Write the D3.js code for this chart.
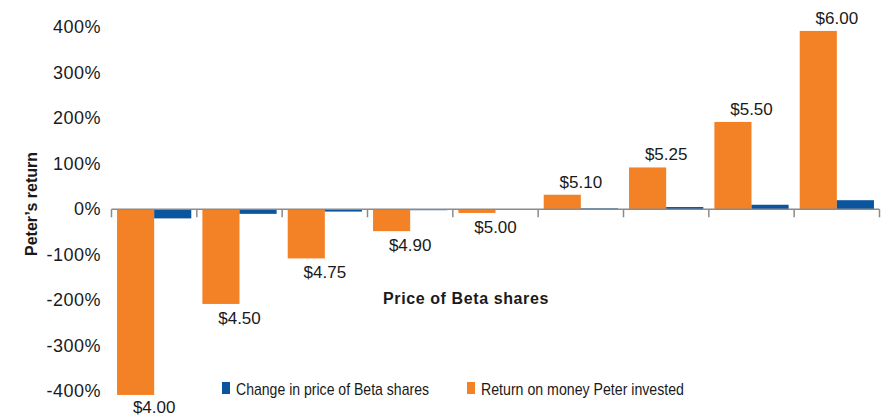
<html>
	<body style="margin:0">
		<style>
		.chart text {
		  font-family: "Liberation Sans", Arial, sans-serif;
		  fill: #1a1a1a;
		}
		</style>
		<script src="https://cdn.jsdelivr.net/npm/d3@7"></script>
		<svg class="chart"></svg>
		<script>

			var prices = ["$4.00", "$4.50", "$4.75", "$4.90", "$5.00", "$5.10", "$5.25", "$5.50", "$6.00"];
			var returnOnMoney = [-408, -208, -108, -48, -8, 32, 92, 192, 392];
			var priceChange = [-20, -10, -5, -2, 0, 2, 5, 10, 20];
			var yTicks = [-400, -300, -200, -100, 0, 100, 200, 300, 400];
			var seriesNames = ["Return on money Peter invested", "Change in price of Beta shares"];
			var colors = ["#f38226", "#0b549e"];

			var width = 881;
			var height = 417;

			var chart = d3.select(".chart")
				.attr("width", width)
				.attr("height", height);

			var x0 = d3.scaleBand()
				.domain(prices)
				.range([111.5, 879.5])
				.paddingInner(0.13)
				.paddingOuter(0.065);

			var x1 = d3.scaleBand()
				.domain([0, 1])
				.range([0, x0.bandwidth()]);

			var y = d3.scaleLinear()
				.domain([-400, 400])
				.range([391.3, 27.3]);

			// y tick labels, no axis line
			chart.append("g")
				.selectAll("text")
				.data(yTicks)
			  .enter().append("text")
				.attr("x", 101)
				.attr("y", function(d) { return y(d); })
				.attr("text-anchor", "end")
				.attr("dominant-baseline", "central")
				.attr("font-size", "18px")
				.attr("letter-spacing", "0.5px")
				.text(function(d) { return d + "%"; });

			var groups = chart.selectAll("g.cat")
				.data(prices)
			  .enter().append("g")
				.attr("class", "cat")
				.attr("transform", function(d) { return "translate(" + x0(d) + ",0)"; });

			groups.append("rect")
				.attr("x", x1(0))
				.attr("width", x1.bandwidth())
				.attr("y", function(d, i) { return y(Math.max(0, returnOnMoney[i])); })
				.attr("height", function(d, i) { return Math.abs(y(returnOnMoney[i]) - y(0)); })
				.attr("fill", colors[0]);

			groups.append("rect")
				.attr("x", x1(1))
				.attr("width", x1.bandwidth())
				.attr("y", function(d, i) { return y(Math.max(0, priceChange[i])); })
				.attr("height", function(d, i) { return Math.abs(y(priceChange[i]) - y(0)); })
				.attr("fill", colors[1]);

			groups.append("text")
				.attr("x", x0.bandwidth() / 2)
				.attr("y", function(d, i) {
					var v = returnOnMoney[i];
					return v < 0 ? Math.min(y(v) + 20, height - 4) : y(v) - 7;
				})
				.attr("text-anchor", "middle")
				.attr("font-size", "17px")
				.text(function(d) { return d; });

			// zero axis with ticks between categories
			var xAxis = chart.append("g")
				.attr("transform", "translate(0," + y(0) + ")");
			xAxis.append("line")
				.attr("x1", x0.range()[0])
				.attr("x2", x0.range()[1])
				.attr("stroke", "#8a8a8a")
				.attr("stroke-width", 1.5);
			var bounds = prices.map(function(d) { return x0(d) - x0.step() * x0.paddingInner() / 2; });
			bounds.push(x0.range()[1]);
			xAxis.selectAll("line.tick")
				.data(bounds)
			  .enter().append("line")
				.attr("class", "tick")
				.attr("x1", function(d) { return d; })
				.attr("x2", function(d) { return d; })
				.attr("y1", 0)
				.attr("y2", 8)
				.attr("stroke", "#8a8a8a")
				.attr("stroke-width", 1.5);

			chart.append("text")
				.attr("transform", "translate(36.5,204) rotate(-90)")
				.attr("text-anchor", "middle")
				.attr("font-size", "16px")
				.attr("font-weight", "bold")
				.text("Peter\u2019s return");

			chart.append("text")
				.attr("x", 466)
				.attr("y", 304)
				.attr("text-anchor", "middle")
				.attr("font-size", "16px")
				.attr("font-weight", "bold")
				.attr("letter-spacing", "0.6px")
				.text("Price of Beta shares");

			var legend = chart.append("g").attr("class", "legend");
			var legendItems = [
				{name: seriesNames[1], color: colors[1], x: 222, len: 193},
				{name: seriesNames[0], color: colors[0], x: 467, len: 203}
			];
			legend.selectAll("rect")
				.data(legendItems)
			  .enter().append("rect")
				.attr("x", function(d) { return d.x; })
				.attr("y", 382)
				.attr("width", 8)
				.attr("height", 12)
				.attr("fill", function(d) { return d.color; });
			legend.selectAll("text")
				.data(legendItems)
			  .enter().append("text")
				.attr("x", function(d) { return d.x + 14; })
				.attr("y", 389)
				.attr("dominant-baseline", "central")
				.attr("font-size", "17px")
				.attr("textLength", function(d) { return d.len; })
				.attr("lengthAdjust", "spacingAndGlyphs")
				.text(function(d) { return d.name; });

		</script>
	</body>
</html>
